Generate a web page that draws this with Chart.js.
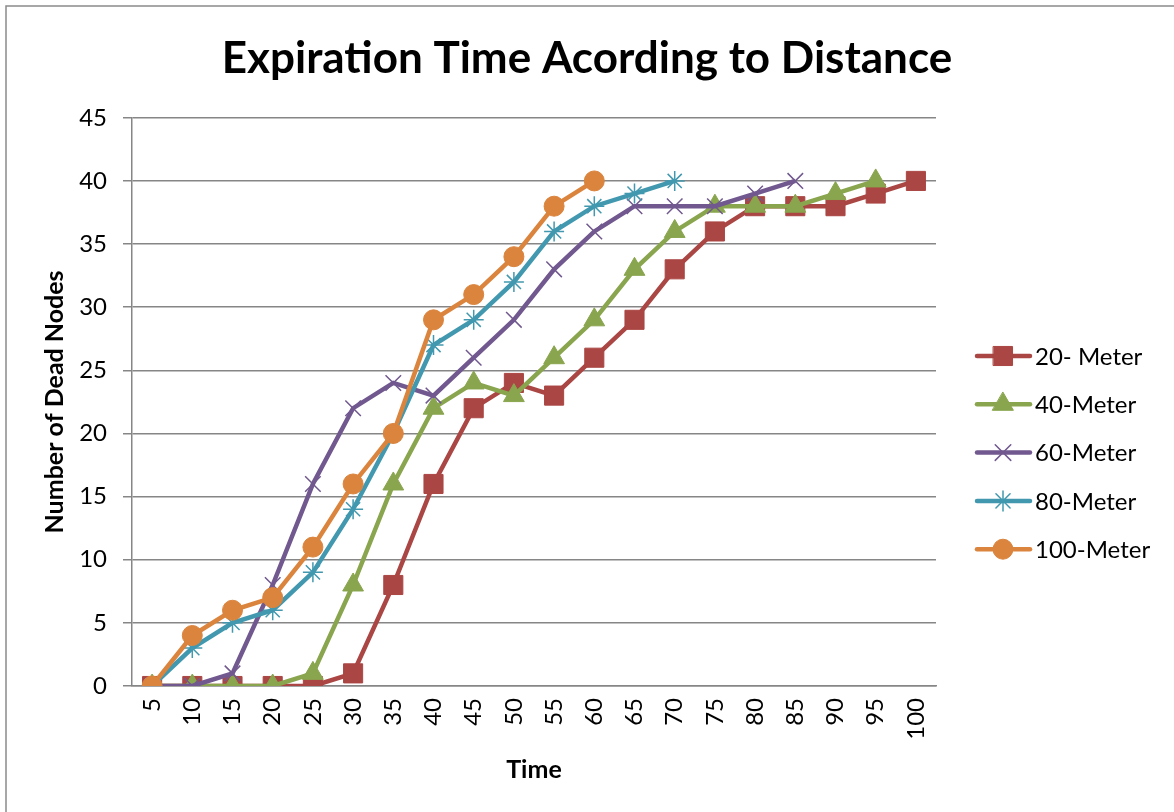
<!DOCTYPE html>
<html>
<head>
<meta charset="utf-8">
<title>Expiration Time Acording to Distance</title>
<script src="https://cdn.jsdelivr.net/npm/chart.js@4.4.1/dist/chart.umd.min.js"></script>
<style>
  body { margin: 0; background: #fff; }
  #wrap { width: 1174px; height: 812px; }
</style>
</head>
<body>
<div id="wrap"><canvas id="chart" width="1174" height="812"></canvas></div>
<script>
// x categories (Time)
const timeLabels = ["5", "10", "15", "20", "25", "30", "35", "40", "45", "50",
                    "55", "60", "65", "70", "75", "80", "85", "90", "95", "100"];

// Number of dead nodes per distance
const meter20  = [0, 0, 0, 0, 0, 1, 8, 16, 22, 24, 23, 26, 29, 33, 36, 38, 38, 38, 39, 40];
const meter40  = [0, 0, 0, 0, 1, 8, 16, 22, 24, 23, 26, 29, 33, 36, 38, 38, 38, 39, 40];
const meter60  = [0, 0, 1, 8, 16, 22, 24, 23, 26, 29, 33, 36, 38, 38, 38, 39, 40];
const meter80  = [0, 3, 5, 6, 9, 14, 20, 27, 29, 32, 36, 38, 39, 40];
const meter100 = [0, 4, 6, 7, 11, 16, 20, 29, 31, 34, 38, 40];

const seriesNames = ["20- Meter", "40-Meter", "60-Meter", "80-Meter", "100-Meter"];
const yTicks = [0, 5, 10, 15, 20, 25, 30, 35, 40, 45];

const FONT = "Lato, 'Open Sans', sans-serif";
const GRID = "#868686";

function makeSeries(name, data, color, style, radius, order) {
    return {
        label: name,
        data: data,
        borderColor: color,
        backgroundColor: color,
        borderWidth: 4.5,
        tension: 0,
        fill: false,
        pointStyle: style,
        pointRadius: radius,
        pointBorderWidth: (style === "crossRot" || style === "star") ? 1.5 : 1,
        pointBackgroundColor: color,
        pointBorderColor: color,
        order: order
    };
}

const datasets = [
    makeSeries(seriesNames[0], meter20, "#AA4643", "rect", 13.5, 5),
    makeSeries(seriesNames[1], meter40, "#89A54E", "triangle", 12, 4),
    makeSeries(seriesNames[2], meter60, "#71588F", "crossRot", 11, 3),
    makeSeries(seriesNames[3], meter80, "#4198AF", "star", 10, 2),
    makeSeries(seriesNames[4], meter100, "#DB843D", "circle", 10, 1)
];

// outer frame + legend drawn by hand (line with marker, Excel style)
const framePlugin = {
    id: "frame",
    beforeDraw(chart) {
        const ctx = chart.ctx;
        ctx.save();
        ctx.fillStyle = "#fff";
        ctx.fillRect(0, 0, chart.width, chart.height);
        ctx.strokeStyle = "#8a8a8a";
        ctx.lineWidth = 1.5;
        ctx.strokeRect(6, 6, chart.width + 20, chart.height + 20);
        ctx.restore();
    },
    afterDraw(chart) {
        const ctx = chart.ctx;
        const helpers = Chart.helpers;
        ctx.save();
        chart.data.datasets.forEach(function (ds, i) {
            const y = 356 + i * 48.3;
            ctx.strokeStyle = ds.borderColor;
            ctx.lineWidth = 4.5;
            ctx.lineCap = "round";
            ctx.beginPath();
            ctx.moveTo(977, y);
            ctx.lineTo(1030, y);
            ctx.stroke();
            if (helpers && helpers.drawPoint) {
                ctx.fillStyle = ds.pointBackgroundColor;
                ctx.strokeStyle = ds.pointBorderColor;
                ctx.lineWidth = ds.pointBorderWidth;
                helpers.drawPoint(ctx, {
                    pointStyle: ds.pointStyle,
                    radius: ds.pointRadius,
                    rotation: 0,
                    borderWidth: ds.pointBorderWidth
                }, 1003, y);
            }
            ctx.fillStyle = "#000";
            ctx.font = "24px " + FONT;
            ctx.textAlign = "left";
            ctx.textBaseline = "middle";
            ctx.fillText(ds.label, 1035, y + 1);
        });
        ctx.restore();
    }
};

const ctx = document.getElementById("chart").getContext("2d");
const chart = new Chart(ctx, {
    type: "line",
    data: { labels: timeLabels, datasets: datasets },
    options: {
        responsive: false,
        animation: false,
        events: [],
        layout: { padding: 0 },
        plugins: {
            legend: { display: false },
            tooltip: { enabled: false },
            title: {
                display: true,
                text: "Expiration Time Acording to Distance",
                color: "#000",
                font: { family: FONT, size: 44, weight: "bold" },
                padding: { top: 32, bottom: 33 }
            }
        },
        scales: {
            x: {
                type: "category",
                offset: true,
                grid: { display: false, drawTicks: false },
                border: { display: true, color: GRID, width: 1.5 },
                ticks: {
                    color: "#000",
                    font: { family: FONT, size: 24 },
                    minRotation: 90,
                    maxRotation: 90,
                    padding: 12,
                    autoSkip: false
                },
                title: {
                    display: true,
                    text: "Time",
                    color: "#000",
                    font: { family: FONT, size: 25, weight: "bold" },
                    padding: { top: 0, bottom: 27 }
                },
                afterFit: function (scale) { scale.height = 126; }
            },
            y: {
                min: 0,
                max: 45,
                afterBuildTicks: function (scale) {
                    scale.ticks = yTicks.map(function (v) { return { value: v }; });
                },
                grid: { color: GRID, lineWidth: 1.5, tickLength: 9, drawTicks: true },
                border: { display: true, color: GRID, width: 1.5 },
                ticks: {
                    color: "#000",
                    font: { family: FONT, size: 24 },
                    padding: 16
                },
                title: {
                    display: true,
                    text: "Number of Dead Nodes",
                    color: "#000",
                    font: { family: FONT, size: 25, weight: "bold" },
                    padding: { top: 40, bottom: 0 }
                },
                afterFit: function (scale) { scale.width = 132; }
            },
            yRight: {
                position: "right",
                display: true,
                grid: { display: false, drawOnChartArea: false, drawTicks: false },
                border: { display: false },
                ticks: { display: false },
                afterFit: function (scale) { scale.width = 238; }
            }
        }
    },
    plugins: [framePlugin]
});
</script>
</body>
</html>
